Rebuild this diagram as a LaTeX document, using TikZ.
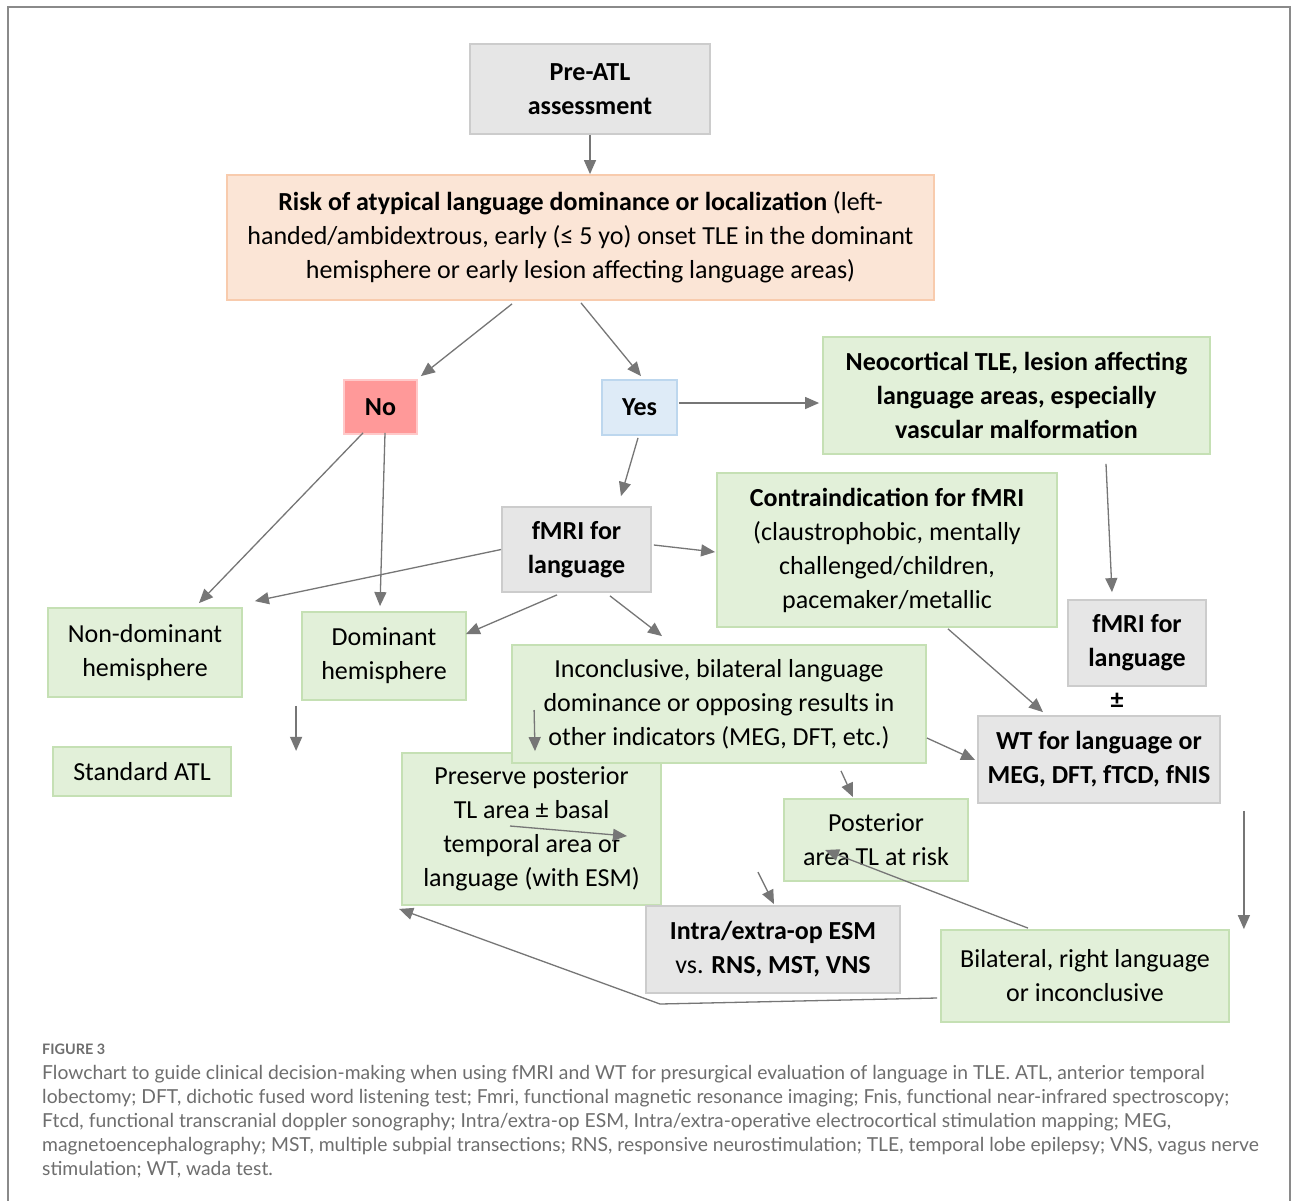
\documentclass[tikz,border=0pt]{standalone}
\usepackage{fontspec}
\setmainfont{Carlito}
\newfontfamily\capfont{Lato}
\usetikzlibrary{arrows.meta,calc}
\definecolor{gfill}{HTML}{E6E6E6}
\definecolor{gline}{HTML}{CCCCCC}
\definecolor{grfill}{HTML}{E2F0D9}
\definecolor{grline}{HTML}{C5E0B4}
\definecolor{pfill}{HTML}{FBE5D6}
\definecolor{pline}{HTML}{F8CBAD}
\definecolor{rfill}{HTML}{FF9999}
\definecolor{rline}{HTML}{FFC9C9}
\definecolor{bfill}{HTML}{DEEBF7}
\definecolor{bline}{HTML}{BDD7EE}
\definecolor{arrgray}{HTML}{767676}
\definecolor{framegray}{HTML}{8A8A8A}
\definecolor{capgray}{HTML}{6E6E6E}
\begin{document}
\begin{tikzpicture}[x=1pt,y=-1pt,
  base/.style={draw, line width=1.8pt, align=center, inner sep=0pt, font=\fontsize{26}{34}\selectfont},
  graybox/.style={base, fill=gfill, draw=gline},
  greenbox/.style={base, fill=grfill, draw=grline},
  peachbox/.style={base, fill=pfill, draw=pline},
  redbox/.style={base, fill=rfill, draw=rline},
  bluebox/.style={base, fill=bfill, draw=bline},
  arr/.style={draw=arrgray, line width=1.3pt, -{Triangle[length=14pt,width=12pt]}},
  sz/.style 2 args={minimum width=#1pt, minimum height=#2pt}
]
\useasboundingbox (0,0) rectangle (1293,1200);
\fill[white] (0,0) rectangle (1293,1200);
\draw[framegray, line width=1.5pt] (8,1201) -- (8,7) -- (1290,7) -- (1290,1201);

% nodes
\node[graybox, sz={240}{90}] (pre) at (590,89) {\textbf{Pre-ATL}\\\textbf{assessment}};
\node[peachbox, sz={707}{125}] (risk) at (580.5,237.5) {\textbf{Risk of atypical language dominance or localization} (left-\\handed/ambidextrous, early (≤ 5 yo) onset TLE in the dominant\\hemisphere or early lesion affecting language areas)};
\node[redbox, sz={73}{54}] (no) at (380.5,407) {\textbf{No}};
\node[bluebox, sz={75}{55}] (yes) at (639.5,407.5) {\textbf{Yes}};
\node[greenbox, sz={387}{117}] (neo) at (1016.5,395.5) {\textbf{Neocortical TLE, lesion affecting}\\\textbf{language areas, especially}\\\textbf{vascular malformation}};
\node[graybox, sz={149}{85}] (fmri) at (576.5,549.5) {\textbf{fMRI for}\\\textbf{language}};
\node[greenbox, sz={340}{154}] (contra) at (887,550) {\textbf{Contraindication for fMRI}\\(claustrophobic, mentally\\challenged/children,\\pacemaker/metallic};
\node[graybox, sz={138}{86}] (fmrib) at (1137,643) {\textbf{fMRI for}\\\textbf{language}};
\node[font=\fontsize{26}{34}\selectfont\bfseries, inner sep=0pt] (pm) at (1117,701) {±};
\node[graybox, sz={242}{87}] (wt) at (1099,759.5) {\textbf{WT for language or}\\\textbf{MEG, DFT, fTCD, fNIS}};
\node[greenbox, sz={194}{89}] (nondom) at (145,652.5) {Non-dominant\\hemisphere};
\node[greenbox, sz={164}{88}] (dom) at (384,656) {Dominant\\hemisphere};
\node[greenbox, sz={178}{49}] (std) at (142,771.5) {Standard ATL};
\node[greenbox, sz={259}{152}] (pres) at (531.5,829) {Preserve posterior\\TL area ± basal\\temporal area of\\language (with ESM)};
\node[greenbox, sz={414}{118}] (inc) at (719,704) {Inconclusive, bilateral language\\dominance or opposing results in\\other indicators (MEG, DFT, etc.)};
\node[greenbox, sz={184}{82}] (post) at (876,840) {Posterior\\area TL at risk};
\node[graybox, sz={254}{87}] (intra) at (773,949.5) {\textbf{Intra/extra-op ESM}\\vs. \textbf{RNS, MST, VNS}};
\node[greenbox, sz={288}{92}] (bil) at (1085,976) {Bilateral, right language\\or inconclusive};

% free ends
\coordinate (domdown) at ($(dom.south west)+(-5,50)$);
\coordinate (presa) at ($(pres.center)+(-21.5,-3)$);
\coordinate (presb) at ($(pres.center)+(95.5,7)$);
\coordinate (intraa) at ($(intra.north)+(-15,-33)$);
\coordinate (bend) at (660,1004);

% connectors
\draw[arr] (pre.south) -- (pre.south |- risk.north);
\draw[arr] ($(risk.south)+(-68.5,3)$) -- ($(no.north east)+(3,-3)$);
\draw[arr] ($(risk.south)+(0.5,2)$) -- ($(yes.north)+(1.5,-3)$);
\draw[arr] ($(no.south)+(-17.5,-2)$) -- ($(nondom.north)+(54,-4)$);
\draw[arr] ($(no.south)+(4.5,-2)$) -- ($(dom.north)+(-4,-5)$);
\draw[arr] ($(yes.east)+(1,-4.5)$) -- ($(neo.west)+(-3,7.5)$);
\draw[arr] ($(yes.south)+(-1.5,2)$) -- ($(fmri.north)+(44.5,-10)$);
\draw[arr] (fmri.west) -- ($(nondom.north east)+(12,-6)$);
\draw[arr] ($(fmri.south)+(-19.5,2)$) -- ($(dom.north east)+(-1,23)$);
\draw[arr] ($(fmri.south)+(33.5,3)$) -- ($(inc.north)+(-57,-8)$);
\draw[arr] ($(fmri.east)+(2,-4.5)$) -- ($(contra.west)+(-1,2)$);
\draw[arr] ($(neo.south)+(89.5,9)$) -- ($(fmrib.north)+(-25,-7)$);
\draw[arr] ($(contra.south)+(61,1)$) -- ($(wt.north)+(-56,-3)$);
\draw[arr] ($(inc.east)+(0,34)$) -- ($(wt.west)+(-2,0.5)$);
\draw[arr] ($(dom.south west)+(-5,5)$) -- (domdown);
\draw[arr] ($(inc.west)+(23,6)$) -- ($(pres.north)+(3.5,-1)$);
\draw[arr] (presa) -- (presb);
\draw[arr] ($(inc.south)+(122,7)$) -- ($(post.north)+(-23,-1)$);
\draw[arr] (intraa) -- ($(intra.north)+(1,-1)$);
\draw[arr] ($(wt.south east)+(23,7)$) -- ($(bil.north east)+(14,0)$);
\draw[arr] ($(bil.north)+(-57,-1)$) -- ($(post.center)+(-51,10)$);
\draw[arr] ($(bil.west)+(-3,22)$) -- (bend) -- ($(pres.south west)+(-2,3)$);

% caption
\node[anchor=west, inner sep=0pt, text=capgray, font=\capfont\fontsize{14.4}{16}\selectfont\bfseries] (fig) at (42,1049) {FIGURE 3};
\node[anchor=north west, inner sep=0pt, align=left, text=capgray, font=\capfont\fontsize{19.3}{24}\selectfont] (cap) at (42,1065) {Flowchart to guide clinical decision-making when using fMRI and WT for presurgical evaluation of language in TLE. ATL, anterior temporal\\lobectomy; DFT, dichotic fused word listening test; Fmri, functional magnetic resonance imaging; Fnis, functional near-infrared spectroscopy;\\Ftcd, functional transcranial doppler sonography; Intra/extra-op ESM, Intra/extra-operative electrocortical stimulation mapping; MEG,\\magnetoencephalography; MST, multiple subpial transections; RNS, responsive neurostimulation; TLE, temporal lobe epilepsy; VNS, vagus nerve\\stimulation; WT, wada test.};
\end{tikzpicture}
\end{document}
